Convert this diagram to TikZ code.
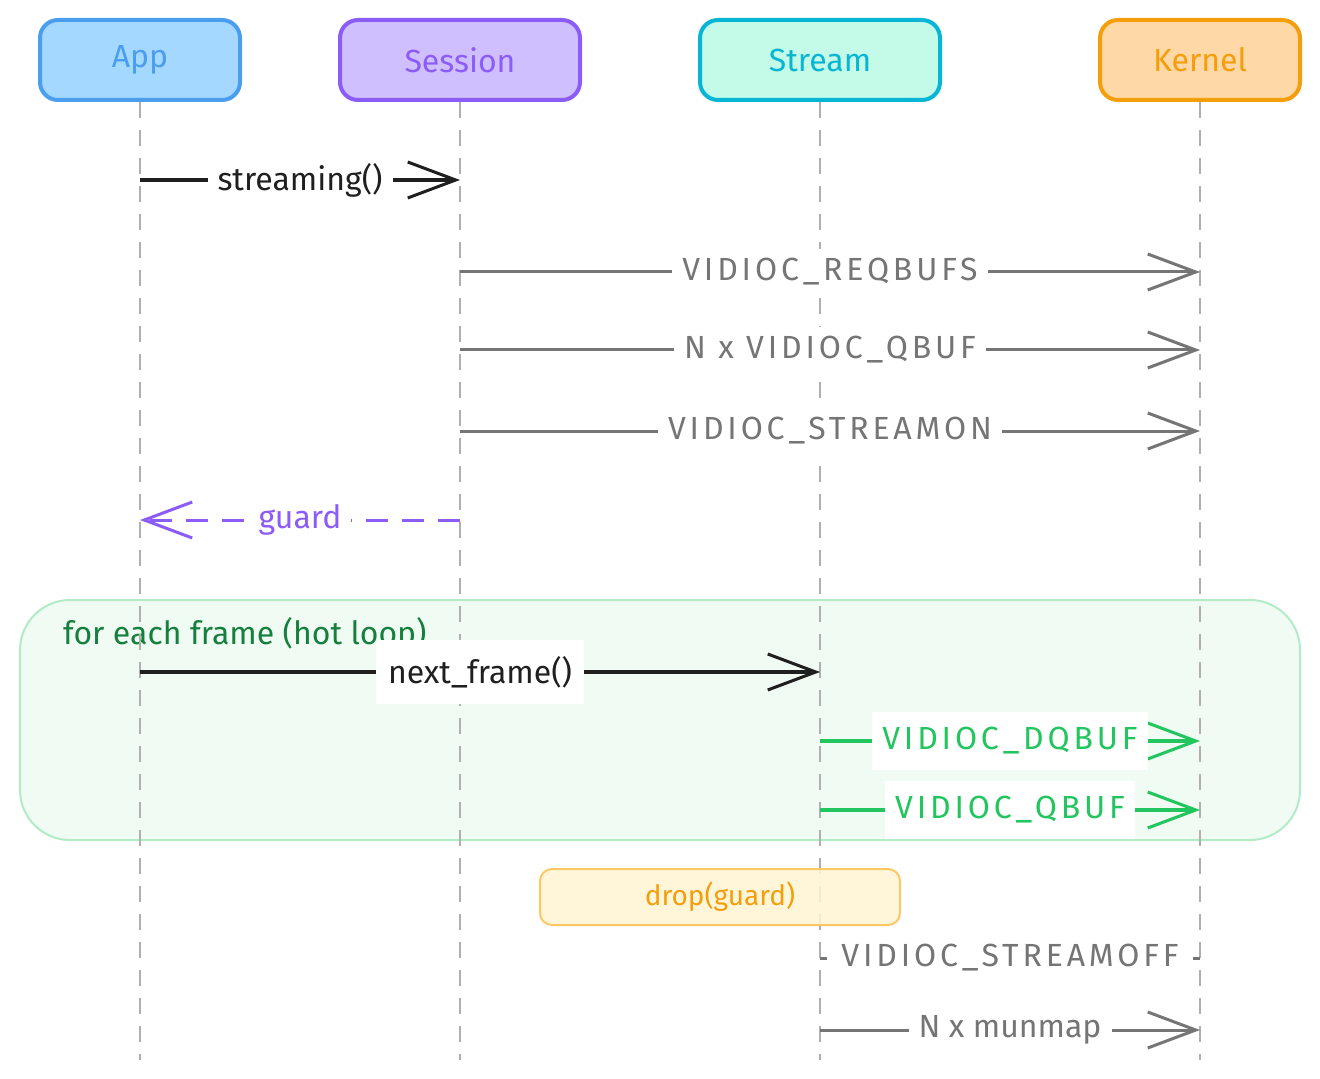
\documentclass[tikz,border=0pt]{standalone}
\usepackage{fontspec}
\setmainfont{Fira Sans}
\usetikzlibrary{arrows.meta}
\definecolor{appline}{HTML}{4A9EED}
\definecolor{appfill}{HTML}{A5D8FF}
\definecolor{sessline}{HTML}{8B5CF6}
\definecolor{sessfill}{HTML}{D0BFFF}
\definecolor{strmline}{HTML}{06B6D4}
\definecolor{strmfill}{HTML}{C3FAE8}
\definecolor{kernline}{HTML}{F59E0B}
\definecolor{kernfill}{HTML}{FFD8A8}
\definecolor{lifegray}{HTML}{B0B0B0}
\definecolor{msggray}{HTML}{757575}
\definecolor{hotgreen}{HTML}{22C55E}
\definecolor{loopgreen}{HTML}{15803D}
\definecolor{loopfill}{HTML}{F0FBF3}
\definecolor{loopline}{HTML}{B2EBC6}
\definecolor{notefill}{HTML}{FFF5D4}
\definecolor{noteline}{HTML}{FBC864}
\newcommand{\seqfont}{\fontsize{16}{19}\selectfont}
\newcommand{\capsfont}{\fontsize{16}{19}\selectfont\addfontfeatures{LetterSpace=12}}
\tikzset{
  actor/.style={draw, rounded corners=9pt, line width=2pt, minimum width=100pt,
    minimum height=40pt, font=\seqfont},
  life/.style={draw=lifegray, line width=1pt, dash pattern=on 8pt off 6pt},
  msg/.style={line width=1.5pt, -{Straight Barb[length=24pt,width=18pt,line width=1.5pt]}},
  lbl/.style={fill=white, font=\seqfont, inner sep=5pt},
  ioctl/.style={lbl, font=\capsfont},
}
\begin{document}
\begin{tikzpicture}[x=0.5pt,y=-0.5pt]
	\useasboundingbox (0,0) rectangle (1320,1079);
	% loop frame
	\draw [fill=loopfill, draw=loopline, line width=1pt, rounded corners=25pt] (20,600) rectangle (1300,840);
	\node [anchor=west, text=loopgreen, font=\seqfont] (looplbl) at (56,634) {for each frame (hot loop)};
	% participants
	\node [actor, fill=appfill, draw=appline, text=appline] (app) at (140,60) {App};
	\node [actor, fill=sessfill, draw=sessline, text=sessline, minimum width=120pt] (sess) at (460,60) {Session};
	\node [actor, fill=strmfill, draw=strmline, text=strmline, minimum width=120pt] (strm) at (820,60) {Stream};
	\node [actor, fill=kernfill, draw=kernline, text=kernline] (kern) at (1200,60) {Kernel};
	\foreach \p in {app,sess,strm,kern}
		\draw [life] (\p.south) -- (\p |- 0,1060);
	% setup
	\draw [msg, color=black!88, line width=2pt] (app |- 0,180) -- node [lbl] {streaming()} (sess |- 0,180);
	\draw [msg, color=msggray] (sess |- 0,272) -- node [ioctl] {VIDIOC\_REQBUFS} (kern |- 0,272);
	\draw [msg, color=msggray] (sess |- 0,350) -- node [ioctl] {N x VIDIOC\_QBUF} (kern |- 0,350);
	\draw [msg, color=msggray] (sess |- 0,431) -- node [ioctl] {VIDIOC\_STREAMON} (kern |- 0,431);
	\draw [msg, color=sessline, dash pattern=on 11pt off 7pt] (sess |- 0,520) -- node [lbl] {guard} (app |- 0,520);
	% hot loop
	\draw [msg, color=black!88, line width=2pt] (app |- 0,672) -- node [lbl, inner xsep=6pt, inner ysep=8pt] {next\_frame()} (strm |- 0,672);
	\draw [msg, color=hotgreen, line width=2pt] (strm |- 0,741) -- node [ioctl, inner ysep=8pt] {VIDIOC\_DQBUF} (kern |- 0,741);
	\draw [msg, color=hotgreen, line width=2pt] (strm |- 0,810) -- node [ioctl, inner ysep=8pt] {VIDIOC\_QBUF} (kern |- 0,810);
	% teardown
	\node [draw=noteline, fill=notefill, fill opacity=0.85, text opacity=1, text=kernline, line width=1pt,
		rounded corners=6pt, minimum width=180pt, minimum height=28pt, font=\fontsize{14}{17}\selectfont] (drop) at (720,897) {drop(guard)};
	\draw [line width=1.5pt, color=msggray] (strm |- 0,958) -- node [ioctl, minimum width=183pt] {VIDIOC\_STREAMOFF} (kern |- 0,958);
	\draw [msg, color=msggray] (strm |- 0,1030) -- node [lbl] {N x munmap} (kern |- 0,1030);
\end{tikzpicture}
\end{document}
